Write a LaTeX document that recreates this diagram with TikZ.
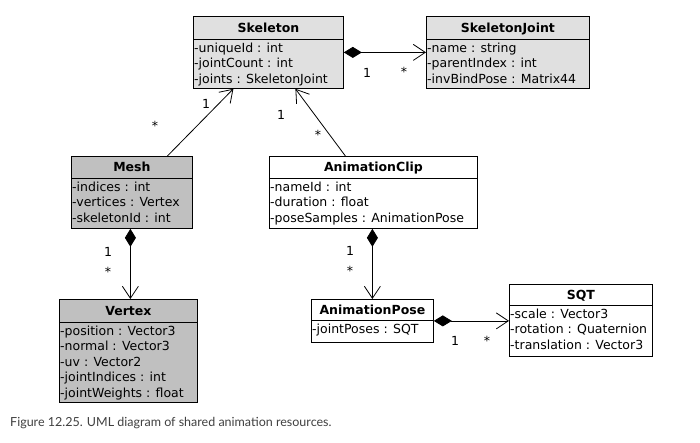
\documentclass[tikz,border=0pt]{standalone}
\usepackage{fontspec}
\setmainfont{DejaVu Sans}
\newfontfamily\capfont{Lato}
\usetikzlibrary{arrows.meta}
\definecolor{lightg}{HTML}{E0E0E0}
\definecolor{darkg}{HTML}{C0C0C0}
\tikzset{
  box/.style={draw, line width=0.8pt, anchor=north west, inner sep=0pt},
  ttl/.style={font=\bfseries\fontsize{12.5}{15}\selectfont, inner sep=0pt},
  attr/.style={font=\fontsize{12.5}{15}\selectfont, inner sep=0pt, anchor=base west},
  mult/.style={font=\fontsize{12.5}{15}\selectfont, inner sep=0pt},
  comp/.style={line width=0.8pt, {Diamond[length=18pt,width=11pt]}-{Straight Barb[length=12pt,width=16pt]}},
  assoc/.style={line width=0.8pt, -{Straight Barb[length=12pt,width=16pt]}},
}
\newcommand\umlclass[9]{%
  \node[box, fill=#7, minimum width=#4pt, minimum height=#5pt] (#1) at (#2,#3) {};
  \draw[line width=0.8pt] ([yshift=-#6pt]#1.north west) -- ([yshift=-#6pt]#1.north east);
  \node[ttl, anchor=base] (#1-t) at ([yshift={-(#6*0.5+4.5)*1pt}]#1.north) {#8};
  \foreach \t [count=\i] in {#9}
    \node[attr] (#1-a\i) at ([xshift=1pt,yshift={-(#6+13+(\i-1)*15.5)*1pt}]#1.north west) {\t};
}
\begin{document}
\begin{tikzpicture}[x=1pt,y=-1pt]
\useasboundingbox (0,0) rectangle (700,442);
\fill[white] (0,0) rectangle (700,442);

\umlclass{skel}{193}{16}{150}{72}{23}{lightg}{Skeleton}{-uniqueId : int,-jointCount : int,-joints : SkeletonJoint}
\umlclass{sj}{426}{16}{163}{72}{23}{lightg}{SkeletonJoint}{-name : string,-parentIndex : int,-invBindPose : Matrix44}
\umlclass{mesh}{71}{156}{121}{72}{22}{darkg}{Mesh}{-indices : int,-vertices : Vertex,-skeletonId : int}
\umlclass{clip}{269}{156}{208}{72}{22}{white}{AnimationClip}{-nameId : int,-duration : float,-poseSamples : AnimationPose}
\umlclass{vert}{59}{299}{138}{103}{23}{darkg}{Vertex}{-position : Vector3,-normal : Vector3,-uv : Vector2,-jointIndices : int,-jointWeights : float}
\umlclass{pose}{311}{299}{122}{43}{21}{white}{AnimationPose}{-jointPoses : SQT}
\umlclass{sqt}{509}{284}{143}{72}{21}{white}{SQT}{-scale : Vector3,-rotation : Quaternion,-translation : Vector3}

\draw[comp] (skel.east) -- (sj.west);
\draw[assoc] ([xshift=35.5pt]mesh.north) -- ([xshift=-35pt]skel.south);
\draw[assoc] ([xshift=-28pt]clip.north) -- ([xshift=27pt]skel.south);
\draw[comp] ([xshift=-1.5pt]mesh.south) -- ([xshift=-1.5pt]mesh.south |- vert.north);
\draw[comp] ([xshift=-1pt]clip.south) -- ([xshift=-1pt]clip.south |- pose.north);
\draw[comp] (pose.east) -- (pose.east -| sqt.west);

\node[mult] (m1) at (367,73) {1};
\node[mult] (m2) at (404,72) {*};
\node[mult] (m3) at (206,104) {1};
\node[mult] (m4) at (155,126) {*};
\node[mult] (m5) at (281,115) {1};
\node[mult] (m6) at (318,135) {*};
\node[mult] (m7) at (108,252) {1};
\node[mult] (m8) at (108,272) {*};
\node[mult] (m9) at (350,251) {1};
\node[mult] (m10) at (350,271) {*};
\node[mult] (m11) at (455,341) {1};
\node[mult] (m12) at (487,341) {*};

\node[anchor=west, inner sep=0pt, text=black!75, font=\capfont\fontsize{12.5}{14}\selectfont] (cap) at (10,423) {Figure 12.25. UML diagram of shared animation resources.};
\end{tikzpicture}
\end{document}
